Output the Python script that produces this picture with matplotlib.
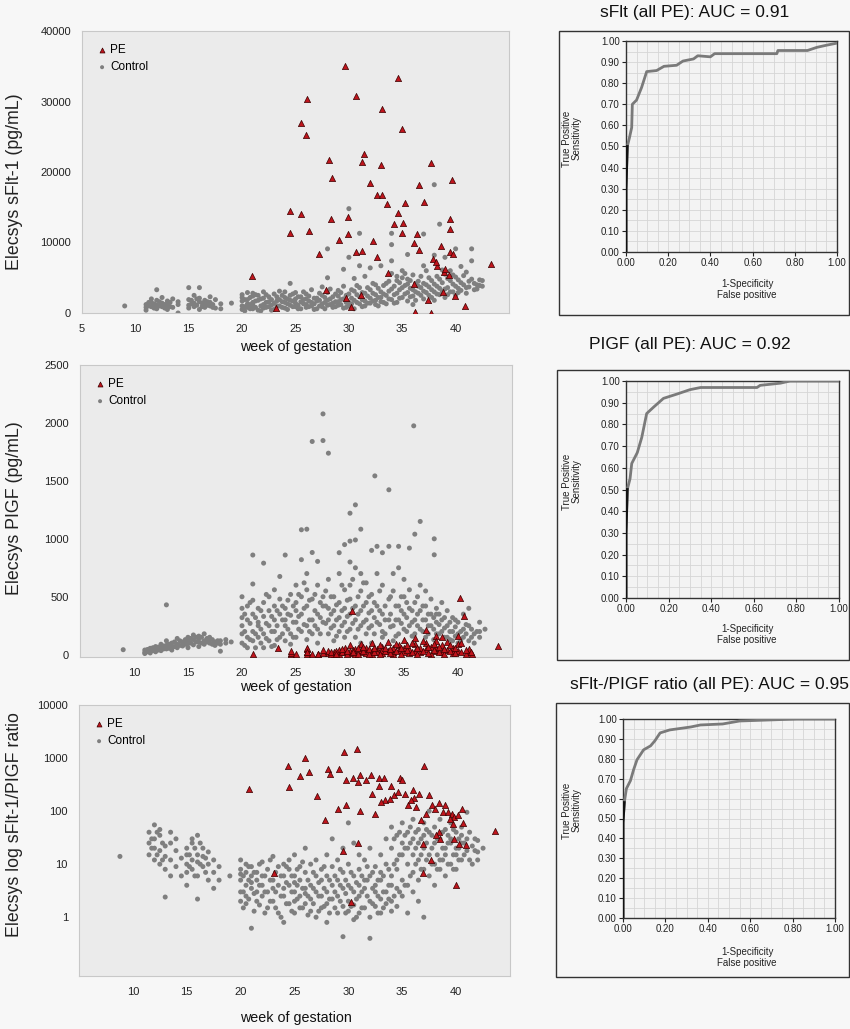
import numpy as np
import matplotlib
matplotlib.use('Agg')
from matplotlib import pyplot as plt
from matplotlib.patches import Rectangle
from matplotlib.ticker import MultipleLocator, FixedLocator, FixedFormatter, FormatStrFormatter

plt.rcParams['font.family'] = ['Liberation Sans', 'DejaVu Sans']

# ---- panel 1: sFlt-1 (pg/mL) ----
pe1_week = [29.6, 34.6, 26.1, 30.7, 25.5, 26.0, 33.1, 35.0, 28.1, 31.4, 31.2, 33.0, 37.7, 28.4,
            32.0, 39.7, 36.6, 32.6, 33.1, 33.6, 35.3, 37.0, 24.5, 25.5, 28.3, 29.9, 34.6, 39.5,
            24.5, 26.3, 29.9, 29.1, 32.3, 34.2, 35.1, 35.0, 36.4, 36.1, 39.5, 36.6, 38.6, 27.2,
            30.7, 31.2, 32.6, 39.5, 39.8, 37.9, 38.3, 38.9, 39.4, 43.3, 33.7, 20.9, 36.1, 27.9,
            31.1, 29.7, 37.4, 38.8, 39.9, 40.9, 30.2, 23.2, 36.2, 37.7, 38.2, 39.0]
pe1_sflt = [35000, 33300, 30300, 30800, 27000, 25200, 29000, 26100, 21700, 22500, 21400, 21000,
            21300, 19200, 18500, 18900, 18100, 16800, 16800, 15500, 15600, 15800, 14400, 14000,
            13300, 13600, 14200, 13400, 11400, 11700, 11200, 10400, 10200, 12600, 12800, 11400,
            11200, 10000, 11900, 9000, 9500, 8300, 8600, 8800, 7900, 8700, 8300, 7700, 6700, 5800,
            5400, 6900, 5700, 5300, 4100, 3200, 2500, 2100, 1900, 3000, 2400, 1000, 800, 700, 150,
            0, 7200, 6200]

ctrl1_weeks = [9, 11, 11.5, 12, 12.5, 13, 13.5, 14, 15, 15.5, 16, 16.5, 17, 17.5, 18, 19,
               20, 20.5, 21, 21.5, 22, 22.5, 23, 23.5, 24, 24.5, 25, 25.5, 26, 26.5, 27, 27.5,
               28, 28.5, 29, 29.5, 30, 30.5, 31, 31.5, 32, 32.5, 33, 33.5, 34, 34.5, 35, 35.5,
               36, 36.5, 37, 37.5, 38, 38.5, 39, 39.5, 40, 40.5, 41, 41.5, 42, 42.5,
               11.25, 11.75, 12.25, 12.75, 13.25, 15.25, 15.75, 16.25, 16.75, 17.25,
               20.25, 20.75, 21.25, 21.75, 22.25, 22.75, 23.25, 23.75, 24.25, 24.75, 25.25, 25.75,
               26.25, 26.75, 27.25, 27.75, 28.25, 28.75, 29.25, 29.75, 30.25, 30.75, 31.25, 31.75,
               32.25, 32.75, 33.25, 33.75, 34.25, 34.75, 35.25, 35.75, 36.25, 36.75, 37.25, 37.75,
               38.25, 38.75, 39.25, 39.75, 40.25, 40.75, 41.25, 41.75, 42.25]
ctrl1_sflt = [[1000], [800, 1200, 400], [1500, 900, 2000], [3300, 1100, 600, 1800],
              [1400, 2200, 900], [1000, 1700, 500, 1300], [2000, 800], [0, 1200, 1600],
              [1900, 700, 3600, 1100], [2500, 1400, 900], [1600, 2100, 500, 3600],
              [1200, 1800, 800], [2300, 1000, 1500], [700, 1900], [1300, 600], [1400],
              [2600, 1000, 1700, 500, 2200], [1300, 2900, 800, 1900], [2400, 600, 1500, 2800, 1100],
              [1800, 400, 2500], [1200, 2100, 700, 3000], [1600, 900, 2300], [1400, 2700, 500],
              [1900, 1000, 3100], [2200, 700, 1500, 3000], [1100, 2500, 1800, 4200],
              [900, 2000, 1400, 2900], [1600, 600, 2300], [1200, 2700, 800, 2000],
              [1500, 3300, 1000], [2100, 600, 1700], [1300, 2500, 900, 3700],
              [1800, 1100, 2900, 9100, 5000], [2300, 1400, 800], [1600, 3200, 1100, 2400],
              [2000, 700, 6200, 3800], [1500, 2700, 1000, 7900, 14800], [3100, 1800, 600, 4900],
              [2300, 1300, 3600, 11300, 6700], [1700, 2800, 1000, 5200], [2100, 3300, 1400, 6400],
              [2600, 1200, 4000, 1800], [3000, 1600, 2200, 6700], [2500, 4200, 1300],
              [3400, 1900, 9700, 7400, 11300, 5600], [2800, 4600, 1500, 5200],
              [3600, 2200, 5000, 6000], [2900, 4100, 1700, 8300, 4800], [3300, 2400, 5400, 1200],
              [4500, 2800, 3800], [3100, 6700, 2000, 11200, 4200], [3700, 2500, 5000],
              [4100, 3000, 8200, 18200, 1800], [2600, 4800, 12600, 3500], [3400, 5500, 7900, 2200],
              [4600, 3000, 6000], [3800, 9100, 5100, 2500], [4300, 3200, 6600], [3600, 5800, 2800],
              [4800, 9100, 7400], [4000, 3400], [4600, 3800],
              [1000, 1500], [700, 1300], [1000, 1600], [1200, 700], [900, 1500], [1300, 1800],
              [1100, 2000], [1400, 900], [1600, 1100], [1200, 800],
              [1900, 900, 300], [2200, 1200, 600], [1700, 800, 2600], [1000, 2000, 300],
              [1500, 2600, 800], [1900, 400, 1100], [2300, 1000, 1700], [800, 1600, 2500],
              [1300, 2000, 500], [1700, 900, 2700], [1100, 2300, 600], [1900, 1300, 3000],
              [900, 1700, 2400], [1300, 2100, 500], [1800, 1000, 2800], [1500, 600, 2200],
              [2000, 1200, 3400], [1600, 2700, 900], [1900, 1200, 2900], [2500, 1500, 800],
              [2100, 3300, 1300], [2600, 1500, 3900], [1900, 2900, 900], [2400, 3600, 1400],
              [2800, 1700, 4200], [2200, 3500, 1000], [2700, 3900, 1500], [3100, 2000, 4500],
              [2600, 3800, 1400], [3300, 2100, 4300], [2700, 3900, 5600], [3500, 2300, 4600],
              [3000, 4200, 1800], [3600, 2500, 5200], [4000, 2900, 6000], [3300, 4600, 2200],
              [3800, 5200, 2700], [4300, 3100, 6100], [3600, 4900, 2600], [4100, 3000, 5400],
              [3500, 4700, 2900], [4000, 5300], [3700, 4500], [4200, 3300], [3900, 4700]]

# ---- panel 2: PlGF (pg/mL) ----
pe2_weeks = [21, 23.3, 24.5, 25, 26, 26.5, 27, 28, 28.5, 29, 29.5, 30, 30.2, 30.5, 31, 31.5, 32,
             32.5, 33, 33.5, 34, 34.5, 35, 35.5, 36, 36.5, 37, 37.5, 38, 38.5, 39, 39.5, 40, 40.2,
             40.6, 41, 41.3, 43.7,
             27.5, 28.25, 28.75, 29.25, 29.75, 30.25, 30.75, 31.25, 31.75, 32.25, 32.75, 33.25,
             33.75, 34.25, 34.75, 35.25, 35.75, 36.25, 36.75, 37.25, 37.75, 38.25, 38.75, 39.25,
             39.75, 40.25, 40.75, 41.25]
pe2_plgf = [[5], [60], [5, 15, 30], [10], [10, 25, 45, 60, 20], [10], [10, 5], [15, 30], [5, 20],
            [10, 40], [25, 60], [15, 80, 35], [380], [10, 50], [20, 90, 40], [15, 60],
            [30, 100, 10], [50, 20], [70, 15, 40], [110, 30], [20, 60, 10], [85, 40],
            [25, 130, 60], [15, 50], [90, 35, 140], [20, 60], [215, 45, 100], [10, 70],
            [160, 30, 120, 55], [20, 80, 150], [40, 110], [15, 60], [165, 30, 90], [490], [335],
            [20, 50], [5], [72],
            [15, 40], [10, 25], [35, 5], [20, 50], [10, 30], [40, 20], [5, 60], [30, 70],
            [10, 45], [25, 60], [5, 80], [30, 55], [15, 45], [35, 90], [10, 60], [40, 80],
            [20, 100], [10, 55], [30, 120], [15, 65], [40, 90], [20, 70], [10, 45], [30, 85],
            [15, 60], [25, 100], [10, 40], [20]]

ctrl2_weeks = [9, 11, 11.5, 12, 12.5, 13, 13.5, 14, 14.5, 15, 15.5, 16, 16.5, 17, 17.5, 18, 18.5,
               19, 20, 20.5, 21, 21.5, 22, 22.5, 23, 23.5, 24, 24.5, 25, 25.5, 26, 26.5, 27, 27.5,
               28, 28.5, 29, 29.5, 30, 30.5, 31, 31.5, 32, 32.3, 32.5, 33, 33.6, 34, 34.5, 35,
               35.5, 35.9, 36, 36.5, 37, 37.5, 37.8, 38, 38.5, 39, 39.5, 40, 40.5, 41, 41.5, 42,
               42.5,
               11.25, 11.75, 12.25, 12.75, 13.25, 13.75, 14.25, 14.75, 15.25, 15.75, 16.25, 16.75,
               17.25, 17.75,
               20.25, 20.75, 21.25, 21.75, 22.25, 22.75, 23.25, 23.75, 24.25, 24.75, 25.25, 25.75,
               26.25, 26.75, 27.25, 27.75, 28.25, 28.75, 29.25, 29.75, 30.25, 30.75, 31.25, 31.75,
               32.25, 32.75, 33.25, 33.75, 34.25, 34.75, 35.25, 35.75, 36.25, 36.75, 37.25, 37.75,
               38.25, 38.75, 39.25, 39.75, 40.25, 40.75, 41.25, 41.75]
ctrl2_plgf = [[43], [20, 40, 10], [30, 55, 15], [45, 70, 25], [60, 35, 90], [80, 50, 430, 120],
              [65, 100, 40], [90, 140, 60], [110, 75], [95, 150, 60, 120], [130, 85, 170],
              [110, 160, 70, 140], [120, 180, 90], [100, 150, 130], [110, 80], [30, 90, 120],
              [100, 130], [110], [100, 250, 400, 500, 180, 320], [150, 300, 420, 60],
              [860, 200, 350, 120, 470, 610], [280, 150, 400, 250], [790, 330, 180, 60, 450],
              [250, 500, 120, 380], [200, 420, 300, 80, 560], [675, 350, 150, 480],
              [860, 250, 400, 120, 300], [520, 180, 340, 90], [450, 280, 150, 600, 380],
              [1078, 820, 350, 200, 500], [1083, 700, 250, 420, 130, 560],
              [1840, 882, 300, 480, 180], [805, 600, 350, 220, 100], [2078, 1848, 500, 280, 420],
              [1739, 400, 180, 650, 300], [500, 250, 380, 120], [880, 700, 320, 200, 450],
              [950, 560, 400, 150, 280], [1221, 980, 800, 600, 350, 220, 480],
              [1293, 990, 750, 420, 150, 300], [1083, 700, 550, 380, 250, 100],
              [620, 450, 300, 180], [900, 520, 380, 250, 100], [1543], [935, 700, 420, 280],
              [880, 600, 350, 200, 150], [1423, 935, 480, 300], [700, 550, 250, 120],
              [935, 750, 420, 300, 180], [650, 500, 350, 220], [920, 560, 400, 250], [1975],
              [1040, 450, 300, 180], [1150, 600, 380, 220], [550, 420, 300, 150], [480, 350, 250],
              [1000, 862], [400, 280, 180, 350], [450, 300, 200], [380, 250, 150],
              [320, 200, 120], [280, 180, 100], [350, 220, 150], [400, 250, 120], [180, 100],
              [280, 200, 150], [220],
              [25, 45], [35, 60], [40, 65], [50, 75], [55, 90], [70, 110], [80, 120], [90, 130],
              [100, 140], [110, 150], [100, 150], [110, 140], [90, 130], [100, 120],
              [200, 350, 80], [270, 130, 450], [320, 180, 60], [220, 380, 100], [270, 140, 520],
              [330, 200, 70], [250, 380, 130], [300, 180, 420], [220, 350, 470], [280, 420, 150],
              [330, 220, 520], [400, 260, 620], [300, 470, 200], [380, 250, 520], [320, 450, 180],
              [270, 420, 550], [350, 230, 500], [300, 430, 160], [380, 250, 600], [330, 470, 200],
              [400, 270, 650], [350, 500, 220], [420, 280, 620], [360, 500, 230], [320, 450, 180],
              [380, 260, 550], [300, 420, 180], [350, 240, 500], [300, 420, 160], [270, 380, 500],
              [320, 200, 450], [280, 380, 160], [250, 350, 500], [300, 200, 420], [250, 350, 180],
              [220, 320, 130], [260, 180, 350], [230, 150, 320], [200, 280, 130], [240, 160, 300],
              [200, 120], [180, 260], [150, 220], [200]]

# ---- panel 3: sFlt-1/PlGF ratio ----
pe3_week = [20.8, 23.1, 24.5, 24.4, 26.0, 25.5, 26.3, 27.1, 27.8, 28.1, 28.3, 29.1, 29.0, 29.8,
            29.6, 30.8, 29.5, 30.9, 30.2, 29.8, 30.4, 31.1, 30.9, 31.1, 32.2, 32.5, 32.1, 32.8,
            33.3, 33.4, 33.9, 34.2, 34.8, 35.0, 34.6, 35.3, 36.1, 35.5, 36.3, 36.6, 37.0, 36.7,
            37.5, 37.8, 36.9, 36.9, 37.7, 38.4, 38.8, 38.4, 38.5, 39.2, 39.6, 39.8, 39.7, 40.5,
            40.0, 40.3, 40.9, 43.6, 33.0, 34.0, 35.8, 36.0, 37.2, 38.0, 39.0, 39.4, 40.2, 40.6,
            38.1, 39.8, 31.6, 32.8]
pe3_ratio = [263, 6.9, 290, 720, 1000, 460, 540, 190, 67, 620, 500, 620, 110, 130, 1280, 1480,
             18, 25, 1.9, 380, 430, 470, 350, 100, 210, 90, 470, 430, 430, 160, 170, 200, 430,
             380, 230, 210, 180, 130, 120, 210, 720, 67, 200, 130, 24, 6.7, 12, 140, 95, 40, 30,
             95, 90, 77, 58, 110, 4.0, 24, 23, 42, 150, 300, 160, 250, 90, 110, 130, 70, 85, 60,
             35, 30, 380, 300]

ctrl3_weeks = [8.8, 11.5, 12, 12.5, 13, 13.5, 14, 14.5, 15, 15.5, 16, 16.5, 17, 17.5, 18, 19, 20,
               20.5, 21, 21.5, 22, 22.5, 23, 23.5, 24, 24.5, 25, 25.5, 26, 26.5, 27, 27.5, 28,
               28.5, 29, 29.5, 30, 30.5, 31, 31.5, 32, 32.5, 33, 33.5, 34, 34.5, 35, 35.5, 36,
               36.5, 37, 37.5, 38, 38.5, 39, 39.5, 40, 40.5, 41, 41.5, 42, 42.5,
               11.75, 12.25, 12.75, 15.25, 15.75, 16.25, 16.75,
               20.25, 20.75, 21.25, 21.75, 22.25, 22.75, 23.25, 23.75, 24.25, 24.75, 25.25, 25.75,
               26.25, 26.75, 27.25, 27.75, 28.25, 28.75, 29.25, 29.75, 30.25, 30.75, 31.25, 31.75,
               32.25, 32.75, 33.25, 33.75, 34.25, 34.75, 35.25, 35.75, 36.25, 36.75, 37.25, 37.75,
               38.25, 38.75, 39.25, 39.75, 40.25, 40.75, 41.25, 41.75]
ctrl3_ratio = [[14], [15, 25, 40], [12, 20, 55, 30], [18, 35, 10, 45], [8, 22, 2.4, 14],
               [25, 12, 40, 6], [18, 9, 30], [6, 13], [10, 20, 7, 15, 4], [12, 25, 8, 30],
               [15, 6, 35, 2.2, 11], [20, 9, 14], [10, 5, 17], [7, 12, 3.5], [9, 5], [6],
               [5, 8, 3, 12, 2, 6.5], [4, 10, 2.5, 7, 1.8], [6, 3.5, 9, 0.62, 4.5], [3, 7, 2, 5],
               [4, 11, 2.5, 6], [8, 3, 1.5], [5, 14, 2, 3.5], [9, 4, 1.2], [6, 2.5, 10, 0.8, 3.5],
               [4, 8, 1.8, 12], [3, 6, 2, 15, 1.2, 4.5], [5, 2.5, 9, 1.5], [3.5, 7, 1.8, 2.8, 20],
               [4, 1.3, 10, 2.2], [6, 3, 1, 12], [2.5, 5, 8, 1.5], [3, 1.8, 6, 15, 0.8],
               [4, 2.2, 9, 30], [2.5, 5, 1.2, 12], [3.5, 1.6, 7, 0.43, 20], [2, 4, 1.3, 10, 60],
               [3, 6, 1.7, 25, 0.9], [2.5, 8, 1.2, 4, 15], [3.5, 1.5, 12, 5], [0.40, 2, 6, 20, 1],
               [3, 9, 1.6, 4], [2.2, 5, 1.2, 15, 7], [3, 10, 1.8, 30], [2, 6, 4, 1.3, 20, 50],
               [3.5, 8, 12, 35, 1.6], [2.5, 15, 25, 60, 5], [4, 10, 40, 1.2, 20],
               [3, 7, 30, 70, 15], [5, 12, 45, 25, 2], [8, 20, 60, 1, 35], [6, 15, 40, 100],
               [10, 25, 50, 4], [12, 30, 70, 8], [20, 45, 15, 6], [10, 30, 60, 25],
               [15, 40, 8, 20], [25, 12, 50, 35], [18, 30, 95], [10, 22], [12, 17, 28], [20],
               [20, 30], [15, 40], [25, 12], [15, 9], [20, 6], [10, 25], [7, 13],
               [3, 6, 1.5], [5, 2.2, 9], [2.8, 7, 1.3], [4, 1.7, 10], [3, 6, 1.2], [2, 5, 12],
               [1.5, 3, 7], [2.5, 6, 1], [1.8, 4.5, 9], [3, 1.3, 6], [2.2, 4, 8], [1.5, 3.5, 11],
               [2.5, 5, 1.1], [1.8, 3.5, 7], [2.5, 4.5, 1.3], [1.6, 3.5, 9], [2.2, 5, 1.2],
               [1.5, 3, 6], [2, 4, 8], [1.2, 2.8, 5], [1.6, 3.5, 7], [2.2, 4.5, 1], [1.5, 3, 6],
               [2.5, 5, 9], [1.8, 3.5, 7], [2.5, 5, 1.2], [3, 6, 1.5], [2.2, 4, 8], [2.5, 10, 30],
               [3, 15, 40], [4, 20, 35], [6, 25, 50], [10, 20, 40], [8, 30, 15], [12, 25, 45],
               [10, 20, 35], [15, 30, 8], [20, 40, 12], [10, 25, 35], [15, 45, 8], [20, 30, 12],
               [15, 25], [12, 40], [18, 30]]

# ---- ROC curves ----
roc1_fpr = [0, 0, 0.006, 0.016, 0.027, 0.03, 0.05, 0.074, 0.098, 0.145, 0.18, 0.24, 0.27, 0.32,
            0.34, 0.40, 0.42, 0.715, 0.72, 0.86, 0.905, 0.95, 1.0]
roc1_tpr = [0, 0.30, 0.50, 0.54, 0.59, 0.70, 0.72, 0.78, 0.855, 0.86, 0.88, 0.885, 0.905, 0.915,
            0.93, 0.925, 0.94, 0.94, 0.955, 0.955, 0.97, 0.98, 0.99]
roc2_fpr = [0, 0, 0.006, 0.019, 0.027, 0.053, 0.074, 0.097, 0.13, 0.176, 0.24, 0.30, 0.35, 0.615,
            0.63, 0.725, 0.77, 1.0]
roc2_tpr = [0, 0.30, 0.50, 0.55, 0.62, 0.67, 0.74, 0.85, 0.88, 0.92, 0.94, 0.96, 0.97, 0.97,
            0.98, 0.99, 1.0, 1.0]
roc3_fpr = [0, 0, 0.006, 0.016, 0.035, 0.05, 0.066, 0.097, 0.13, 0.15, 0.175, 0.22, 0.32, 0.365,
            0.47, 0.55, 0.82, 1.0]
roc3_tpr = [0, 0.48, 0.58, 0.65, 0.69, 0.745, 0.795, 0.845, 0.865, 0.89, 0.93, 0.945, 0.96, 0.97,
            0.975, 0.99, 1.0, 1.0]

roc_titles = ['sFlt (all PE): AUC = 0.91', 'PIGF (all PE): AUC = 0.92',
              'sFlt-/PIGF ratio (all PE): AUC = 0.95']
scatter_ylabels = ['Elecsys sFlt-1 (pg/mL)', 'Elecsys PIGF (pg/mL)',
                   'Elecsys log sFlt-1/PIGF ratio']

W, H = 850, 1029
PE_COL = '#c0141c'
CTRL_COL = '#7f7f7f'


def expand(weeks, groups):
    xs, ys = [], []
    for w, g in zip(weeks, groups):
        xs += [w] * len(g)
        ys += list(g)
    return np.array(xs), np.array(ys)


def px_axes(left, top, right, bottom):
    return [left / W, 1 - bottom / H, (right - left) / W, (bottom - top) / H]


def plot_scatter(ax, cx, cy, px, py, xticks):
    ax.set_facecolor('#ebebeb')
    ax.scatter(cx, cy, s=13, color=CTRL_COL, edgecolors='none', label='Control', zorder=2)
    ax.scatter(px, py, s=20, marker='^', color=PE_COL, edgecolors='#3a0000', linewidths=0.5,
               label='PE', zorder=3)
    ax.set_xlim(5, 45)
    ax.set_xticks(xticks)
    ax.tick_params(length=0, labelsize=8, pad=8, colors='#222222')
    for s in ax.spines.values():
        s.set_color('#c8c8c8')
    h, l = ax.get_legend_handles_labels()
    ax.legend(h[::-1], l[::-1], loc='upper left', frameon=False, fontsize=8.5, handletextpad=0.1,
              borderaxespad=0.7, labelspacing=0.45, handlelength=1.2, markerscale=0.8)


def plot_roc(ax, fpr, tpr):
    ax.set_facecolor('#f3f3f3')
    ax.plot(fpr, tpr, color='#7a7a7a', lw=2.0, zorder=3)
    ax.plot(fpr[:3], tpr[:3], color='#111111', lw=2.0, zorder=4)
    ax.set_xlim(0, 1)
    ax.set_ylim(0, 1)
    ax.xaxis.set_major_locator(MultipleLocator(0.2))
    ax.yaxis.set_major_locator(MultipleLocator(0.1))
    ax.xaxis.set_minor_locator(MultipleLocator(0.05))
    ax.yaxis.set_minor_locator(MultipleLocator(0.05))
    ax.xaxis.set_major_formatter(FormatStrFormatter('%.2f'))
    ax.yaxis.set_major_formatter(FormatStrFormatter('%.2f'))
    ax.grid(which='both', color='#d6d6d6', lw=0.6, zorder=1)
    ax.tick_params(which='major', length=3, width=0.8, labelsize=7, pad=1.5, colors='#222222')
    ax.tick_params(which='minor', length=0)
    for s in ax.spines.values():
        s.set_color('#333333')
        s.set_linewidth(1.0)


fig = plt.figure(figsize=(8.5, 10.29), dpi=100, facecolor='#f7f7f7')

# scatter panels
ax1 = fig.add_axes(px_axes(82, 31, 509, 313))
x, y = expand(ctrl1_weeks, ctrl1_sflt)
plot_scatter(ax1, x, y, pe1_week, pe1_sflt, range(5, 45, 5))
ax1.set_ylim(0, 40000)
ax1.set_yticks(range(0, 40001, 10000))

ax2 = fig.add_axes(px_axes(80, 365, 512, 657))
x, y = expand(ctrl2_weeks, ctrl2_plgf)
px, py = expand(pe2_weeks, pe2_plgf)
plot_scatter(ax2, x, y, px, py, range(10, 45, 5))
ax2.set_ylim(-20, 2500)
ax2.set_yticks(range(0, 2501, 500))

ax3 = fig.add_axes(px_axes(79, 705, 510, 976))
x, y = expand(ctrl3_weeks, ctrl3_ratio)
plot_scatter(ax3, x, y, pe3_week, pe3_ratio, range(10, 45, 5))
ax3.set_yscale('log')
ax3.set_ylim(0.078, 10000)
ax3.yaxis.set_major_locator(FixedLocator([1, 10, 100, 1000, 10000]))
ax3.yaxis.set_major_formatter(FixedFormatter(['1', '10', '100', '1000', '10000']))
ax3.yaxis.set_minor_locator(FixedLocator([]))
ax3.tick_params(length=0, labelsize=8, pad=8)

for lab, yc in zip(scatter_ylabels, [182, 508, 825]):
    fig.text(15 / W, 1 - yc / H, lab, rotation=90, ha='center', va='center', fontsize=12.8,
             color='#222222')
for yc in [347, 687, 1018]:
    fig.text(296 / W, 1 - yc / H, 'week of gestation', ha='center', va='center', fontsize=10.3,
             color='#111111')

# ROC panels
roc_axes = [px_axes(626, 41, 837, 252), px_axes(626, 381, 839, 598), px_axes(623, 719, 835, 918)]
roc_data = [(roc1_fpr, roc1_tpr), (roc2_fpr, roc2_tpr), (roc3_fpr, roc3_tpr)]
boxes = [(559, 31, 849, 315), (557, 370, 849, 660), (556, 703, 849, 977)]
title_pos = [(695, 13), (690, 345), (709, 685)]
label_gap = [27, 26, 29]
for i, (rect, (fpr, tpr), box, tp) in enumerate(zip(roc_axes, roc_data, boxes, title_pos)):
    ax = fig.add_axes(rect)
    plot_roc(ax, fpr, tpr)
    l, t, r, b = box
    fig.add_artist(Rectangle((l / W, 1 - b / H), (r - l) / W, (b - t) / H,
                             transform=fig.transFigure, fill=False, ec='#333333', lw=1.0))
    fig.text(tp[0] / W, 1 - tp[1] / H, roc_titles[i], ha='center', va='center', fontsize=12.5,
             color='#111111')
    ax_top = (1 - rect[1] - rect[3]) * H
    ax_bot = (1 - rect[1]) * H
    fig.text(572 / W, 1 - ((ax_top + ax_bot) / 2 - 8) / H, 'True Positive\nSensitivity',
             rotation=90, ha='center', va='center', fontsize=7, linespacing=0.95,
             color='#222222')
    fig.text(747 / W, 1 - (ax_bot + label_gap[i]) / H, '1-Specificity\nFalse positive',
             ha='center', va='top', fontsize=7, linespacing=1.15, color='#222222')

fig.savefig('out.png', dpi=100, facecolor=fig.get_facecolor())
